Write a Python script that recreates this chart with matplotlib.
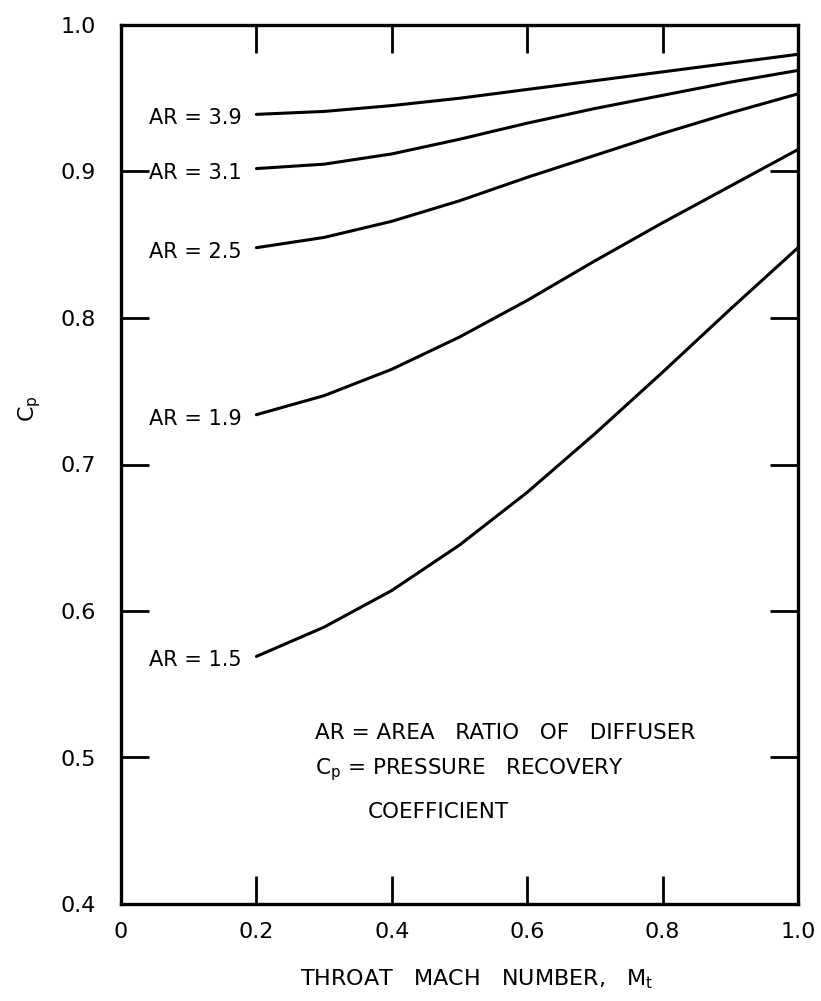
import matplotlib
matplotlib.use("Agg")
import matplotlib.pyplot as plt

# ---- data ----
mach = [0.2, 0.3, 0.4, 0.5, 0.6, 0.7, 0.8, 0.9, 1.0]
cp_ar39 = [0.939, 0.941, 0.945, 0.950, 0.956, 0.962, 0.968, 0.974, 0.980]
cp_ar31 = [0.902, 0.905, 0.912, 0.922, 0.933, 0.943, 0.952, 0.961, 0.969]
cp_ar25 = [0.848, 0.855, 0.866, 0.880, 0.896, 0.911, 0.926, 0.940, 0.953]
cp_ar19 = [0.734, 0.747, 0.765, 0.787, 0.812, 0.839, 0.865, 0.890, 0.915]
cp_ar15 = [0.569, 0.589, 0.614, 0.645, 0.681, 0.721, 0.763, 0.806, 0.848]
curve_labels = ["AR = 3.9", "AR = 3.1", "AR = 2.5", "AR = 1.9", "AR = 1.5"]
x_ticks = [0, 0.2, 0.4, 0.6, 0.8, 1.0]
x_ticklabels = ["0", "0.2", "0.4", "0.6", "0.8", "1.0"]
y_ticks = [0.4, 0.5, 0.6, 0.7, 0.8, 0.9, 1.0]
y_ticklabels = ["0.4", "0.5", "0.6", "0.7", "0.8", "0.9", "1.0"]

plt.rcParams['font.family'] = ['DejaVu Sans']

fig = plt.figure(figsize=(8.21, 10.01), dpi=100)
ax = fig.add_axes([121/821, 1 - 904/1001, (798-121)/821, (904-25)/1001])

series = [cp_ar39, cp_ar31, cp_ar25, cp_ar19, cp_ar15]
for vals, lab in zip(series, curve_labels):
    ax.plot(mach, vals, color='black', lw=2.2, solid_capstyle='round',
            solid_joinstyle='round')
    ax.annotate(lab, xy=(mach[0], vals[0]), xytext=(-15, -4),
                textcoords='offset pixels', ha='right', va='center',
                fontsize=15)

ax.set_xlim(0, 1.0)
ax.set_ylim(0.4, 1.0)
ax.set_xticks(x_ticks)
ax.set_xticklabels(x_ticklabels, fontsize=16)
ax.set_yticks(y_ticks)
ax.set_yticklabels(y_ticklabels, fontsize=16)
ax.tick_params(axis='both', direction='in', length=20, width=2,
               top=True, right=True)
ax.tick_params(axis='y', pad=18)
ax.tick_params(axis='x', pad=13)
for s in ax.spines.values():
    s.set_linewidth(2.4)

ax.set_xlabel("THROAT   MACH   NUMBER,   M$_\\mathregular{t}$", fontsize=16)
ax.xaxis.set_label_coords(0.525, -0.072)
ax.text(-0.135, 0.564, "C$_\\mathregular{p}$", transform=ax.transAxes,
        rotation=90, fontsize=16, ha='center', va='center')

ax.text(0.287, 0.194, "AR = AREA   RATIO   OF   DIFFUSER",
        transform=ax.transAxes, fontsize=15.5, ha='left', va='center')
ax.text(0.287, 0.153, "C$_\\mathregular{p}$ = PRESSURE   RECOVERY",
        transform=ax.transAxes, fontsize=15.5, ha='left', va='center')
ax.text(0.364, 0.105, "COEFFICIENT",
        transform=ax.transAxes, fontsize=15.5, ha='left', va='center')

fig.savefig("out.png", dpi=100, facecolor='white')
